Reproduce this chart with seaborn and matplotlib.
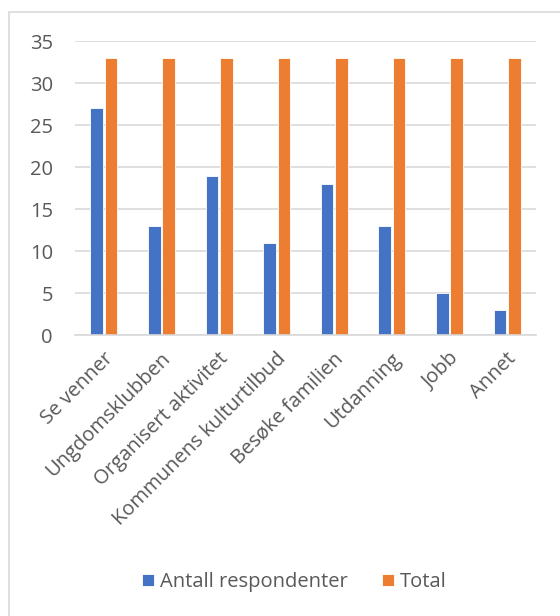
import numpy as np
import pandas as pd
import matplotlib.pyplot as plt
import matplotlib.transforms as mtransforms
import seaborn as sns
from matplotlib.patches import Rectangle

sns.set_style('white')
plt.rcParams['font.family'] = ['Open Sans', 'DejaVu Sans']

categories = ['Se venner', 'Ungdomsklubben', 'Organisert aktivitet',
              'Kommunens kulturtilbud', 'Besøke familien', 'Utdanning',
              'Jobb', 'Annet']
respondenter = [27, 13, 19, 11, 18, 13, 5, 3]
total = [33, 33, 33, 33, 33, 33, 33, 33]
series = ['Antall respondenter', 'Total']
colors = ['#4472C4', '#ED7D31']

df = pd.DataFrame({
    'kategori': categories * 2,
    'verdi': respondenter + total,
    'serie': [series[0]] * len(categories) + [series[1]] * len(categories),
})

fig = plt.figure(figsize=(5.6, 6.16), dpi=100)
ax = fig.add_axes([0.134, 0.456, 0.823, 0.477])
sns.barplot(data=df, x='kategori', y='verdi', hue='serie', palette=colors,
            width=0.5, gap=0.13, ax=ax, legend=True, saturation=1,
            edgecolor='white', linewidth=0.6)

ax.set_ylim(0, 35)
ax.set_yticks(range(0, 36, 5))
ax.set_xlim(-0.5, len(categories) - 0.5)
ax.yaxis.grid(True, color='#D9D9D9', linewidth=1.2)
ax.set_axisbelow(True)
for s in ['top', 'right', 'left']:
    ax.spines[s].set_visible(False)
ax.spines['bottom'].set_color('#D9D9D9')
ax.spines['bottom'].set_linewidth(1.2)
ax.set_xlabel('')
ax.set_ylabel('')
ax.tick_params(axis='both', length=0, labelsize=14.5, labelcolor='#595959')
ax.tick_params(axis='y', pad=16)
ax.tick_params(axis='x', pad=15)
shift = mtransforms.ScaledTranslation(6 / 100, 0, fig.dpi_scale_trans)
for lab in ax.get_xticklabels():
    lab.set_rotation(45)
    lab.set_ha('right')
    lab.set_va('center')
    lab.set_rotation_mode('anchor')
    lab.set_transform(lab.get_transform() + shift)

h, l = ax.get_legend_handles_labels()
ax.legend_.remove()
fig.legend(h, l, loc='center', bbox_to_anchor=(0.525, 0.055), ncol=2,
           frameon=False, fontsize=14.5, labelcolor='#595959',
           handlelength=0.6, handleheight=0.6, handletextpad=0.3,
           columnspacing=1.7)

fig.patches.append(Rectangle((9 / 560, -0.1), 1.2, 0.1 + 604 / 616,
                             transform=fig.transFigure, fill=False,
                             edgecolor='#D9D9D9', linewidth=1.2))

fig.savefig('out.png', dpi=100)
